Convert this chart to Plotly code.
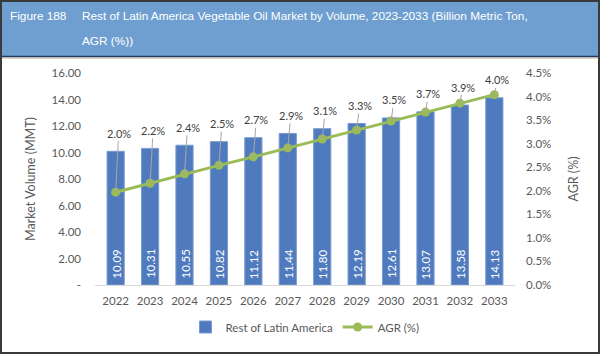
import plotly.graph_objects as go

years = ["2022", "2023", "2024", "2025", "2026", "2027", "2028", "2029", "2030", "2031", "2032", "2033"]
volume = [10.09, 10.31, 10.55, 10.82, 11.12, 11.44, 11.80, 12.19, 12.61, 13.07, 13.58, 14.13]
agr = [1.97, 2.16, 2.36, 2.54, 2.72, 2.91, 3.10, 3.29, 3.48, 3.67, 3.86, 4.04]
left_ticks = [0, 2, 4, 6, 8, 10, 12, 14, 16]
left_ticktext = ["-", "2.00", "4.00", "6.00", "8.00", "10.00", "12.00", "14.00", "16.00"]
right_ticks = [0, 0.5, 1.0, 1.5, 2.0, 2.5, 3.0, 3.5, 4.0, 4.5]

FONT = "Lato"
TXT = "#595959"
W, H = 600, 354
L, R, T, B = 95, 85, 73, 69
pw, ph = W - L - R, H - T - B
Y1MAX, Y2MAX = 16, 4.5

def px(x):
    return (x - L) / pw

def py(y):
    return (H - B - y) / ph

fig = go.Figure()
fig.add_trace(go.Bar(
    x=years, y=volume, name="Rest of Latin America",
    marker=dict(color="#4f7bbe", line=dict(color="#7a9bd0", width=1)),
    width=0.5, yaxis="y",
))
fig.add_trace(go.Scatter(
    x=years, y=agr, name="AGR (%)", mode="lines+markers",
    line=dict(color="#9bbb59", width=3),
    marker=dict(color="#9bbb59", size=9),
    yaxis="y2",
))

annotations = []
for i, (v, a) in enumerate(zip(volume, agr)):
    # vertical value label at the base of each bar
    annotations.append(dict(
        x=i, y=0, xref="x", yref="y", text=f"{v:.2f}", showarrow=False,
        textangle=-90, xanchor="center", yanchor="middle", yshift=21,
        font=dict(size=11.5, color="white", family=FONT),
    ))
    # AGR label ~18px above the bar top, with a leader line to the point
    bar_top_px = v / Y1MAX * ph
    point_px = a / Y2MAX * ph
    offset = -(bar_top_px + 18 - point_px)
    annotations.append(dict(
        x=i, y=a, xref="x", yref="y2",
        text=f"{a:.1f}%", showarrow=True, arrowhead=0, arrowwidth=1,
        arrowcolor="#a6a6a6", ax=3, ay=offset,
        font=dict(size=11, color="#404040", family=FONT),
        standoff=0, startstandoff=0,
    ))

HFONT = dict(size=11.8, color="white", family="Liberation Sans")
annotations.append(dict(
    x=px(8), y=py(16), xref="paper", yref="paper", xanchor="left", yanchor="middle",
    text="Figure 188", showarrow=False, font=HFONT,
))
annotations.append(dict(
    x=px(80), y=py(16), xref="paper", yref="paper", xanchor="left", yanchor="middle",
    text="Rest of Latin America Vegetable Oil Market by Volume, 2023-2033 (Billion Metric Ton,",
    showarrow=False, font=HFONT,
))
annotations.append(dict(
    x=px(80), y=py(41), xref="paper", yref="paper", xanchor="left", yanchor="middle",
    text="AGR (%))", showarrow=False, font=HFONT,
))

shapes = [
    dict(type="rect", xref="paper", yref="paper", x0=px(0), x1=px(W), y0=py(56), y1=py(0),
         fillcolor="#6f9fd0", line=dict(width=0), layer="below"),
    dict(type="line", xref="paper", yref="paper", x0=px(0), x1=px(W), y0=py(56.5), y1=py(56.5),
         line=dict(color="#1f3b66", width=1.5)),
    dict(type="line", xref="paper", yref="paper", x0=px(0), x1=px(W), y0=py(58), y1=py(58),
         line=dict(color="#b0a890", width=1)),
    dict(type="rect", xref="paper", yref="paper", x0=px(1), x1=px(W - 1), y0=py(H - 1), y1=py(1),
         line=dict(color="#3a3a3a", width=2), fillcolor="rgba(0,0,0,0)"),
]

fig.update_layout(
    width=W, height=H,
    margin=dict(l=L, r=R, t=T, b=B),
    paper_bgcolor="white", plot_bgcolor="white",
    font=dict(family=FONT, size=11, color=TXT),
    showlegend=True,
    legend=dict(orientation="h", x=0.5, xanchor="center", y=py(327), yanchor="middle",
                font=dict(size=11.5, color=TXT, family=FONT), itemwidth=30),
    xaxis=dict(type="category", range=[-0.6, len(years) - 0.4], showgrid=False, showline=True,
               linecolor="#d9d9d9", linewidth=1,
               ticks="", tickfont=dict(size=11.5, color=TXT), ticklabelstandoff=5),
    yaxis=dict(range=[0, Y1MAX], tickvals=left_ticks, ticktext=left_ticktext,
               showgrid=False, zeroline=False, showline=False,
               title=dict(text="Market Volume (MMT)", font=dict(size=12.5, color=TXT), standoff=13),
               tickfont=dict(size=11.5, color=TXT), ticklabelstandoff=13),
    yaxis2=dict(range=[0, Y2MAX], tickvals=right_ticks,
                ticktext=[f"{t:.1f}%" for t in right_ticks], overlaying="y", side="right",
                showgrid=False, zeroline=False, showline=False,
                title=dict(text="AGR (%)", font=dict(size=12.5, color=TXT), standoff=18),
                tickfont=dict(size=11.5, color=TXT), ticklabelstandoff=10),
    annotations=annotations,
    shapes=shapes,
)

fig.write_html("out.html")
